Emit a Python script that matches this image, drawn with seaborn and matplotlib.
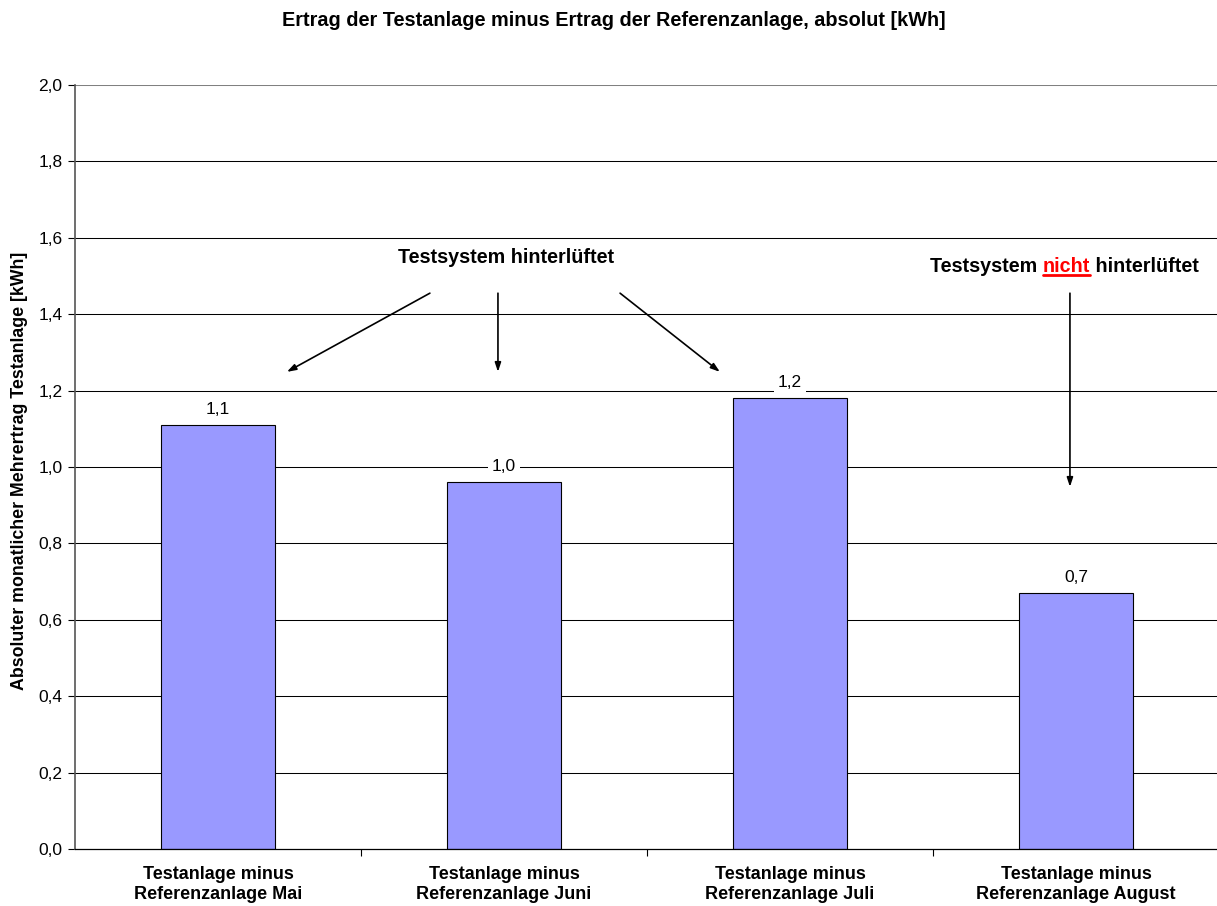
import matplotlib
matplotlib.use("Agg")
import matplotlib.pyplot as plt
import matplotlib.ticker as mticker
from matplotlib.lines import Line2D
import seaborn as sns
import pandas as pd

# Monthly extra yield of the test system compared with the reference system
categories = [
    "Testanlage minus\nReferenzanlage Mai",
    "Testanlage minus\nReferenzanlage Juni",
    "Testanlage minus\nReferenzanlage Juli",
    "Testanlage minus\nReferenzanlage August",
]
values = [1.11, 0.96, 1.18, 0.67]
y_ticks = [0.0, 0.2, 0.4, 0.6, 0.8, 1.0, 1.2, 1.4, 1.6, 1.8, 2.0]

title = "Ertrag der Testanlage minus Ertrag der Referenzanlage, absolut [kWh]"
y_label = "Absoluter monatlicher Mehrertrag Testanlage [kWh]"

sns.set_theme(style="white")
plt.rcParams["font.family"] = ["Liberation Sans", "DejaVu Sans"]
for key in ["text.color", "axes.labelcolor", "xtick.color", "ytick.color"]:
    plt.rcParams[key] = "black"

df = pd.DataFrame({"Kategorie": categories, "Mehrertrag": values})

fig = plt.figure(figsize=(12.17, 9.06), dpi=100)
ax = fig.add_axes([0.0616, 0.0629, 0.9400, 0.8433])

# horizontal grid lines
for yt in y_ticks[1:]:
    ax.axhline(yt, color="#808080" if yt == 2.0 else "black", lw=0.75, zorder=0)

sns.barplot(data=df, x="Kategorie", y="Mehrertrag", color="#9999FF",
            saturation=1, width=0.4, edgecolor="black", linewidth=0.8,
            ax=ax, zorder=2)

ax.set_xlim(-0.5, len(categories) - 0.5)
ax.set_ylim(0, 2.0)
ax.set_yticks(y_ticks)
ax.yaxis.set_major_formatter(mticker.FuncFormatter(lambda v, p: f"{v:.1f}".replace(".", ",")))
ax.tick_params(axis="y", which="major", length=5, width=0.8, color="black",
               labelsize=12.5, pad=4, left=True)
ax.tick_params(axis="x", which="major", length=0, labelsize=13, pad=12)
ax.set_xticks(range(len(categories)))
ax.set_xticklabels(categories, fontweight="bold", linespacing=1.25)
ax.set_xticks([i + 0.5 for i in range(len(categories) - 1)], minor=True)
ax.tick_params(axis="x", which="minor", length=5, width=0.8, color="black",
               bottom=True, direction="out")

ax.set_xlabel("")
ax.set_ylabel(y_label, fontsize=12.8, fontweight="bold")
ax.yaxis.set_label_coords(-0.041, 0.495)

for side in ["top", "right"]:
    ax.spines[side].set_visible(False)
ax.spines["left"].set_color("#555555")
ax.spines["left"].set_linewidth(1.2)
ax.spines["bottom"].set_color("black")
ax.spines["bottom"].set_linewidth(0.9)

# value labels above the bars
for i, v in enumerate(values):
    ax.annotate(f"{v:.1f}".replace(".", ","), xy=(i, v), xytext=(0, 6),
                textcoords="offset points", ha="center", va="bottom",
                fontsize=12.5, zorder=4,
                bbox=dict(boxstyle="square,pad=0.25", fc="white", ec="none"))

fig.text(0.5045, 0.977, title, ha="center", va="center", fontsize=14.3,
         fontweight="bold")

# annotations: ventilated test system (May-July)
ax.text(1.006, 1.549, "Testsystem hinterlüftet", ha="center", va="center",
        fontsize=14.2, fontweight="bold", zorder=5)
arrow_kw = dict(arrowstyle="-|>,head_length=0.45,head_width=0.15", color="black", lw=1.2,
                shrinkA=0, shrinkB=0)
for (x0, y0), (x1, y1) in [((0.741, 1.455), (0.241, 1.249)),
                           ((0.979, 1.455), (0.979, 1.249)),
                           ((1.406, 1.455), (1.755, 1.249))]:
    ax.annotate("", xy=(x1, y1), xytext=(x0, y0), arrowprops=arrow_kw, zorder=5)

# annotation: not ventilated (August)
t1 = ax.text(2.490, 1.524, "Testsystem ", ha="left", va="center",
             fontsize=14.2, fontweight="bold", zorder=5)
t2 = ax.annotate("nicht", xy=(1, 0), xycoords=t1, ha="left", va="bottom",
                 fontsize=14.2, fontweight="bold", color="#FF0000", zorder=5)
t3 = ax.annotate(" hinterlüftet", xy=(1, 0), xycoords=t2, ha="left", va="bottom",
                 fontsize=14.2, fontweight="bold", zorder=5)
ax.annotate("", xy=(2.979, 0.948), xytext=(2.979, 1.455), arrowprops=arrow_kw, zorder=5)

# underline under the red word
fig.canvas.draw()
renderer = fig.canvas.get_renderer()
bb = t2.get_window_extent(renderer)
inv = fig.transFigure.inverted()
(ux0, uy0) = inv.transform((bb.x0, bb.y0 + 1))
(ux1, _) = inv.transform((bb.x1, bb.y0 + 1))
fig.add_artist(Line2D([ux0, ux1], [uy0, uy0], transform=fig.transFigure,
                      color="#FF0000", lw=2.0))

fig.savefig("out.png", dpi=100)
